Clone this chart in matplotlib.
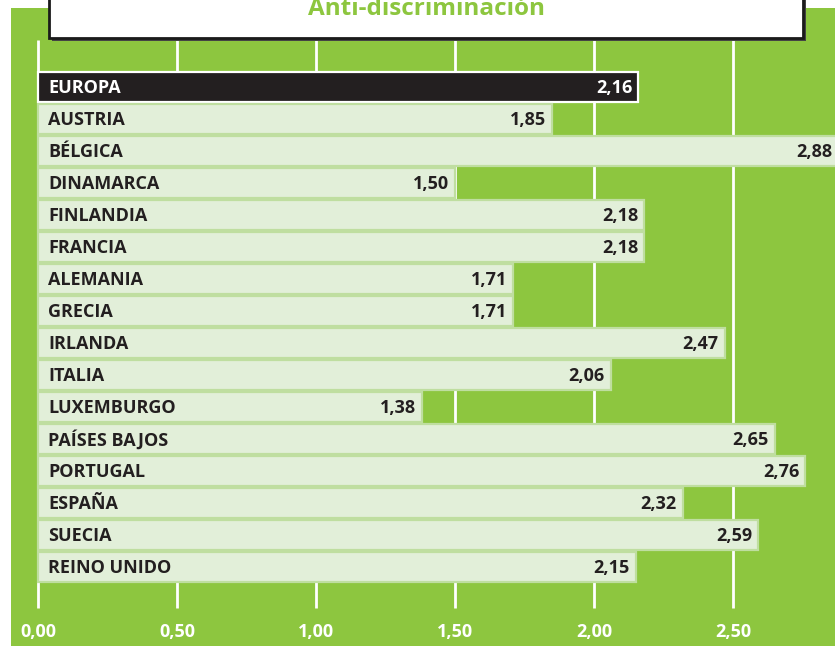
import matplotlib
matplotlib.use("Agg")
import matplotlib.pyplot as plt
from matplotlib.patches import Rectangle

countries = ["EUROPA", "AUSTRIA", "BÉLGICA", "DINAMARCA", "FINLANDIA", "FRANCIA",
             "ALEMANIA", "GRECIA", "IRLANDA", "ITALIA", "LUXEMBURGO", "PAÍSES BAJOS",
             "PORTUGAL", "ESPAÑA", "SUECIA", "REINO UNIDO"]
values = [2.16, 1.85, 2.88, 1.50, 2.18, 2.18, 1.71, 1.71, 2.47, 2.06, 1.38,
          2.65, 2.76, 2.32, 2.59, 2.15]
ticks = [0.0, 0.5, 1.0, 1.5, 2.0, 2.5]
tick_labels = ["0,00", "0,50", "1,00", "1,50", "2,00", "2,50"]
title = "Anti-discriminación"

GREEN = "#8dc63f"
LIGHT = "#e2efd9"
LIGHT_EDGE = "#bfdea0"
DARK = "#231f20"
FONT = ["Open Sans", "DejaVu Sans"]

W, H = 835, 646
fig = plt.figure(figsize=(W / 100, H / 100), dpi=100)
fig.patch.set_facecolor("white")

ax = fig.add_axes([0, 0, 1, 1])
ax.set_facecolor("none")
# pixel mapping: x=0 at px 38, 278 px per unit; row i center at px 87+32*i
ax.set_xlim(-38 / 278, (W - 38) / 278)
ax.set_ylim((H - 87) / 32, -87 / 32)
ax.axis("off")

def xpx(p):
    return (p - 38) / 278

def ypx(p):
    return (p - 87) / 32

# green panel
ax.add_patch(Rectangle((xpx(11), ypx(8)), (W - 11) / 278, (H - 8) / 32,
                       facecolor=GREEN, edgecolor="none", zorder=0))

# grid lines
for t in ticks:
    ax.plot([t, t], [ypx(40), ypx(608)], color="white", lw=2.0, zorder=1,
            solid_capstyle="butt")

for i, (c, v) in enumerate(zip(countries, values)):
    if i == 0:
        fc, ec, tc = DARK, "white", "white"
    else:
        fc, ec, tc = LIGHT, LIGHT_EDGE, DARK
    ax.barh(i, v, height=0.93, left=0, color=fc, edgecolor=ec, linewidth=1.6,
            zorder=2)
    ax.text(10 / 278, i + 0.03, c, ha="left", va="center", color=tc,
            fontsize=13, fontweight="bold", family=FONT, zorder=3)
    ax.text(v - 6 / 278, i + 0.03, f"{v:.2f}".replace(".", ","), ha="right",
            va="center", color=tc, fontsize=13, fontweight="bold",
            family=FONT, zorder=3)

for t, lab in zip(ticks, tick_labels):
    ax.text(t, ypx(632), lab, ha="center", va="center", color="white",
            fontsize=13, fontweight="bold", family=FONT, zorder=3)

# title box with small shadow
ax.add_patch(Rectangle((xpx(52), ypx(-5)), (803 - 49) / 278, (38 + 5 + 3) / 32,
                       facecolor="#444444", edgecolor="none", zorder=4))
ax.add_patch(Rectangle((xpx(49), ypx(-5)), (803 - 49) / 278, (38 + 5) / 32,
                       facecolor="white", edgecolor="#1a1a1a", linewidth=2.0,
                       zorder=5))
ax.text(xpx(427), ypx(15), title, ha="center", va="baseline",
        color=GREEN, fontsize=17.5, fontweight="bold", family=FONT, zorder=6)

fig.savefig("out.png", dpi=100)
